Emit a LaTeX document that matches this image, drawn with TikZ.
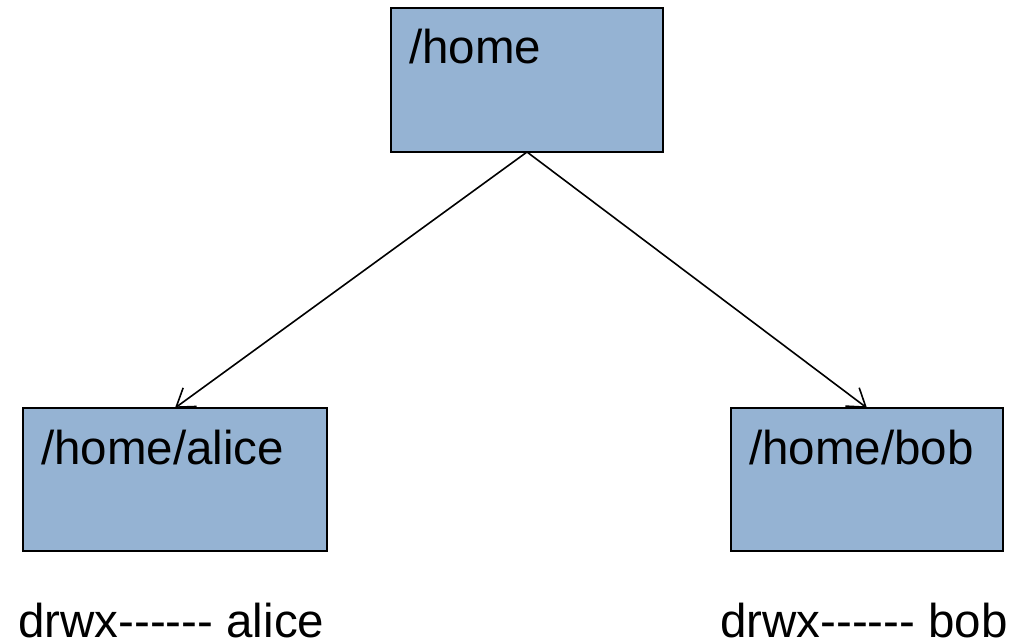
\documentclass[tikz,border=0pt]{standalone}
\usepackage{fontspec}
\setmainfont{Liberation Sans}[Ligatures=TeXOff]
\usetikzlibrary{arrows.meta}
\definecolor{boxblue}{RGB}{149,179,211}
\begin{document}
\begin{tikzpicture}[x=1pt,y=-1pt,
  dirbox/.style={draw=black,line width=1.8pt,fill=boxblue,rectangle,inner sep=0pt,outer sep=0pt},
  lbl/.style={anchor=base west,inner sep=0pt,font=\fontsize{47.5}{56}\selectfont},
  conn/.style={draw=black,line width=1.6pt,-{Straight Barb[length=17pt,width=23pt,line width=1.6pt]}}]
\useasboundingbox (0,0) rectangle (1011,644);
\node[dirbox,minimum width=272pt,minimum height=144pt] (home) at (527,80) {};
\node[dirbox,minimum width=304pt,minimum height=143pt] (alice) at (175,479.5) {};
\node[dirbox,minimum width=272pt,minimum height=143pt] (bob) at (867,479.5) {};
\node[lbl] (thome) at (409,64) {/home};
\node[lbl] (talice) at (41,464) {/home/alice};
\node[lbl] (tbob) at (749,464) {/home/bob};
\node[lbl] (palice) at (18,637) {drwx------ alice};
\node[lbl] (pbob) at (720,637) {drwx------ bob};
\draw[conn] (home.south) -- (alice.north);
\draw[conn] (home.south) -- (bob.north);
\end{tikzpicture}
\end{document}
